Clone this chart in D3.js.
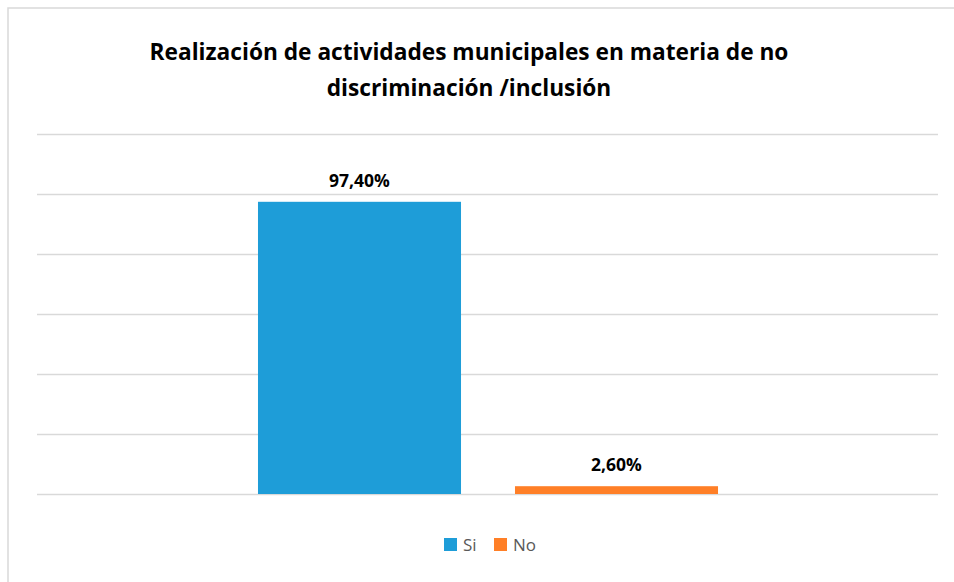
<!DOCTYPE html>
<html>
<head>
<meta charset="utf-8">
<script src="https://cdn.jsdelivr.net/npm/d3@7"></script>
<style>
  body { margin: 0; background: #fff; }
  svg { display: block; }
</style>
</head>
<body>
<script>
// data
let categories = ["Si", "No"]
let values = [0.974, 0.026]
let valueLabels = ["97,40%", "2,60%"]
let yTicks = [0, 0.2, 0.4, 0.6, 0.8, 1.0, 1.2]
let colors = ["#1E9DD8", "#FF7F27"]
let titleLines = ["Realización de actividades municipales en materia de no", "discriminación /inclusión"]

let width = 954, height = 582
let svg = d3.select("body").append("svg")
    .attr("width", width)
    .attr("height", height)
    .style("font-family", "'Open Sans', sans-serif")

// chart frame (runs off the right and bottom edges)
svg.append("path")
    .attr("d", "M8,600 L8,8 L960,8")
    .style("fill", "none")
    .style("stroke", "#d9d9d9")
    .style("stroke-width", 1.5)

// scales
let y = d3.scaleLinear().domain([0, 1.2]).range([494, 134])
let x = d3.scaleBand().domain(categories).range([231, 745])
    .paddingInner(0.21).paddingOuter(0.105)

// gridlines
svg.append("g").selectAll("line")
    .data(yTicks)
    .join("line")
    .attr("x1", 37)
    .attr("x2", 938)
    .attr("y1", d => Math.round(y(d)) + 0.5)
    .attr("y2", d => Math.round(y(d)) + 0.5)
    .style("stroke", "#d9d9d9")
    .style("stroke-width", 1.5)

// bars
svg.append("g").selectAll("rect")
    .data(categories)
    .join("rect")
    .attr("x", d => x(d))
    .attr("y", (d, i) => y(values[i]))
    .attr("width", x.bandwidth())
    .attr("height", (d, i) => y(0) - y(values[i]))
    .style("fill", (d, i) => colors[i])

// value labels
svg.append("g").selectAll("text")
    .data(categories)
    .join("text")
    .attr("x", d => x(d) + x.bandwidth() / 2)
    .attr("y", (d, i) => y(values[i]) - 15)
    .attr("text-anchor", "middle")
    .style("font-size", "17.5px")
    .style("font-weight", "bold")
    .style("fill", "#000")
    .text((d, i) => valueLabels[i])

// title
svg.append("g").selectAll("text")
    .data(titleLines)
    .join("text")
    .attr("x", 469)
    .attr("y", (d, i) => 60 + i * 36)
    .attr("text-anchor", "middle")
    .style("font-size", "22.7px")
    .style("font-weight", "bold")
    .style("fill", "#000")
    .text(d => d)

// legend
let legend = svg.append("g").selectAll("g")
    .data(categories)
    .join("g")
    .attr("transform", (d, i) => `translate(${444 + i * 50},538)`)
legend.append("rect")
    .attr("width", 13)
    .attr("height", 13)
    .style("fill", (d, i) => colors[i])
legend.append("text")
    .attr("x", 19)
    .attr("y", 13)
    .style("font-size", "17px")
    .style("fill", "#595959")
    .text(d => d)
</script>
</body>
</html>
